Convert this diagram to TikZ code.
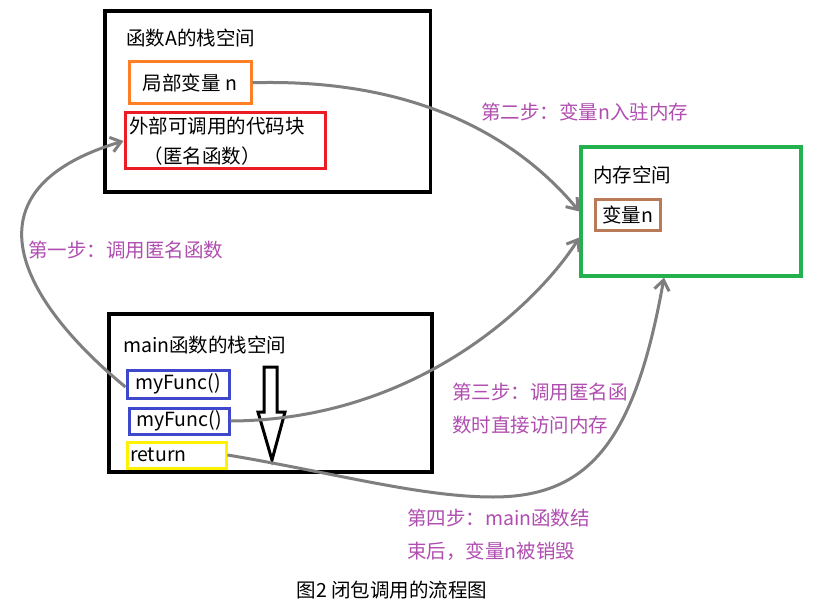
\documentclass[tikz,border=0pt]{standalone}
\usepackage{fontspec}
\setmainfont{Noto Sans CJK SC}
\usetikzlibrary{arrows.meta}
\definecolor{boxorange}{RGB}{255,127,39}
\definecolor{boxred}{RGB}{237,28,36}
\definecolor{boxgreen}{RGB}{34,177,76}
\definecolor{boxblue}{RGB}{63,72,204}
\definecolor{boxyellow}{RGB}{255,242,0}
\definecolor{boxbrown}{RGB}{185,122,87}
\definecolor{flowgray}{RGB}{127,127,127}
\definecolor{steptext}{RGB}{176,78,176}

\begin{document}
\begin{tikzpicture}[x=1bp,y=-1bp,
  every node/.style={font=\fontsize{19.5bp}{30bp}\selectfont},
  container/.style={draw=black, line width=3.3bp, inner sep=0pt},
  slot/.style={draw, line width=3bp, inner sep=0pt},
  title/.style={anchor=west, inner sep=0pt},
  steplabel/.style={anchor=west, inner sep=0pt, text=steptext, align=left,
    font=\fontsize{19.5bp}{33bp}\selectfont},
  flow/.style={draw=flowgray, line width=3bp,
    -{Straight Barb[length=10bp,width=15bp]}}
]
\fill[white] (0,0) rectangle (836,613);
\useasboundingbox (0,0) rectangle (836,613);

% stack frame of function A
\node[container, minimum width=325.5bp, minimum height=181bp] (stackA) at (267.75,101.5) {};
\node[title] (titleA) at (126,38) {函数A的栈空间};
\node[slot, draw=boxorange, minimum width=122bp, minimum height=41.5bp] (localN) at (190,82.75) {局部变量 n};
\node[slot, draw=boxred, minimum width=200bp, minimum height=56bp,
      text width=192bp, align=left] (anon) at (225,141)
      {外部可调用的代码块\\\hspace{0.75em}（匿名函数）};

% memory area
\node[container, draw=boxgreen, minimum width=220bp, minimum height=129bp] (mem) at (691,211.5) {};
\node[title] (titleMem) at (593,175) {内存空间};
\node[slot, draw=boxbrown, minimum width=65bp, minimum height=30.5bp] (memN) at (627.5,215.25) {变量n};

% stack frame of main
\node[container, minimum width=323bp, minimum height=158bp] (stackMain) at (270.5,393) {};
\node[title] (titleMain) at (123,345) {main函数的栈空间};
\node[slot, draw=boxblue, minimum width=102bp, minimum height=28bp] (call1) at (178,384) {myFunc()};
\node[slot, draw=boxblue, minimum width=100bp, minimum height=26bp] (call2) at (179,421) {myFunc()};
\node[slot, draw=boxyellow, minimum width=99bp, minimum height=26bp,
      text width=93bp, align=left] (ret) at (176.5,455) {return};

% execution order inside main
\draw[line width=3bp, line join=miter]
  (264,367) -- (277,367) -- (277,412) -- (285,412) -- (272,460)
  -- (258,412) -- (264,412) -- cycle;

% flow connectors
\draw[flow] (localN.east) .. controls (420,78) and (520,140) .. (mem.west);
\draw[flow] ([yshift=-3bp]call1.west) .. controls (20,300) and (-40,190) .. (anon.west);
\draw[flow] (call2.east) .. controls (420,420) and (540,300) .. ([yshift=-26bp]mem.west);
\draw[flow] (ret.east) .. controls (330,472) and (420,497) .. (493,497)
  .. controls (590,497) and (635,440) .. ([xshift=-27bp]mem.south);

% step labels
\node[steplabel] (step1) at (28,250) {第一步：调用匿名函数};
\node[steplabel] (step2) at (481,112) {第二步：变量n入驻内存};
\node[steplabel] (step3) at (452,408.5) {第三步：调用匿名函\\数时直接访问内存};
\node[steplabel] (step4) at (407,535) {第四步：main函数结\\束后，变量n被销毁};

% caption
\node (caption) at (392,590) {图2 闭包调用的流程图};
\end{tikzpicture}
\end{document}
